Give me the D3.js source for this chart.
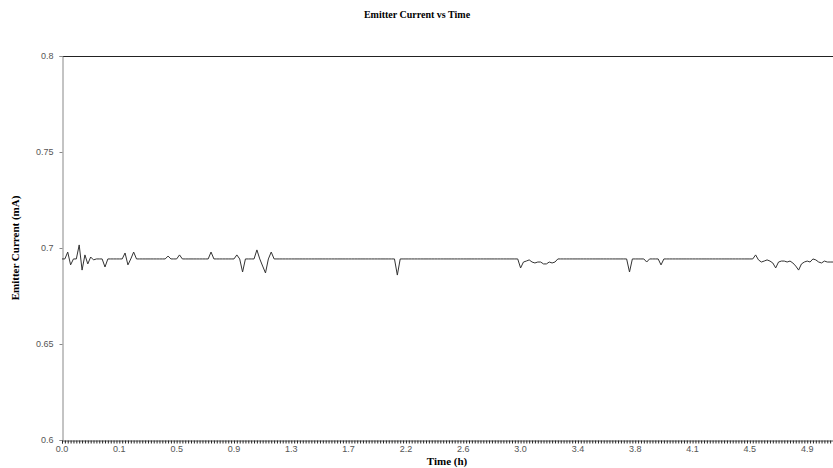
<!DOCTYPE html>
<html>
<head>
<meta charset="utf-8">
<script src="https://cdn.jsdelivr.net/npm/d3@7"></script>
<style>
  html, body { margin: 0; padding: 0; background: #fff; }
  svg { display: block; }
  .tick-label { font-family: Arial, "Liberation Sans", sans-serif; font-size: 9px; fill: #555; }
  .title { font-family: "Times New Roman", "Liberation Serif", serif; font-weight: bold; font-size: 11px; fill: #000; }
</style>
</head>
<body>
<svg id="chart" width="833" height="468"></svg>
<script>
// ── Data ────────────────────────────────────────────────────────────────────
// samples are evenly spaced readings; the x axis is a category axis over them
const sampleCount = 270;
const baseline = 0.6943;   // steady emitter current (mA)

// readings that differ from the baseline: [sample index, current mA]
const deviations = [
  [2, 0.6979], [3, 0.6912], [4, 0.6943], [5, 0.6943], [6, 0.7016], [7, 0.6885],
  [8, 0.6964], [9, 0.6917], [10, 0.6953], [11, 0.6938], [15, 0.6901],
  [22, 0.6974], [23, 0.6912], [25, 0.6979], [37, 0.6958], [41, 0.6964],
  [52, 0.6979], [61, 0.6964], [63, 0.6875], [68, 0.6990], [70, 0.6906],
  [71, 0.6870], [73, 0.6979], [117, 0.6859],
  [160, 0.6896], [161, 0.6927], [162, 0.6932], [163, 0.6938], [164, 0.6927],
  [165, 0.6922], [166, 0.6927], [167, 0.6927], [168, 0.6917], [169, 0.6917],
  [170, 0.6927], [171, 0.6922], [172, 0.6927],
  [198, 0.6875], [204, 0.6927], [209, 0.6912],
  [242, 0.6964], [243, 0.6938], [244, 0.6927], [245, 0.6932], [246, 0.6938],
  [247, 0.6932], [248, 0.6922], [249, 0.6896], [250, 0.6927], [251, 0.6932],
  [252, 0.6932], [253, 0.6927], [254, 0.6932], [255, 0.6922], [256, 0.6906],
  [257, 0.6885], [258, 0.6917], [259, 0.6927], [260, 0.6932], [261, 0.6927],
  [262, 0.6943], [263, 0.6938], [264, 0.6927], [265, 0.6922], [266, 0.6932],
  [267, 0.6927], [268, 0.6927], [269, 0.6927]
];

// category labels shown every 20 samples
const timeLabels = ['0.0', '0.1', '0.5', '0.9', '1.3', '1.7', '2.2', '2.6', '3.0', '3.4', '3.8', '4.1', '4.5', '4.9'];
const labelEvery = 20;
const currentTicks = [0.6, 0.65, 0.7, 0.75, 0.8];

// build the series
const devMap = new Map(deviations);
const series = d3.range(sampleCount).map(i => ({ i, v: devMap.has(i) ? devMap.get(i) : baseline }));

// ── Chart ───────────────────────────────────────────────────────────────────
const svg = d3.select('#chart');
const plot = { left: 62, right: 833, top: 56, bottom: 440 };

const x = d3.scaleLinear().domain([0, sampleCount - 1]).range([plot.left, plot.right]);
const y = d3.scaleLinear().domain([0.6, 0.8]).range([plot.bottom, plot.top]);

// top frame line
svg.append('line')
  .attr('x1', plot.left).attr('x2', plot.right)
  .attr('y1', plot.top + 0.5).attr('y2', plot.top + 0.5)
  .attr('stroke', '#222').attr('stroke-width', 1);

// y axis
const yAxis = svg.append('g')
  .attr('transform', `translate(${plot.left + 0.5},0)`)
  .call(d3.axisLeft(y).tickValues(currentTicks).tickSize(3).tickPadding(6)
    .tickFormat(d => d3.format('.2~f')(d)));
yAxis.select('.domain').attr('stroke', '#888');
yAxis.selectAll('.tick line').attr('stroke', '#888');
yAxis.selectAll('text').attr('class', 'tick-label').attr('font-size', null).attr('font-family', null);

// x axis: a minor tick per sample, labels every 20 samples
const xAxis = svg.append('g')
  .attr('transform', `translate(0,${plot.bottom + 0.5})`)
  .call(d3.axisBottom(x).tickValues(d3.range(0, sampleCount)).tickSize(3).tickFormat(''));
xAxis.select('.domain').attr('stroke', '#555');
xAxis.selectAll('.tick line').attr('stroke', '#222');

svg.append('g')
  .selectAll('text')
  .data(timeLabels)
  .join('text')
  .attr('class', 'tick-label')
  .attr('x', (d, k) => x(k * labelEvery))
  .attr('y', plot.bottom + 12)
  .attr('text-anchor', 'middle')
  .text(d => d);

// the series line
svg.append('path')
  .datum(series)
  .attr('fill', 'none')
  .attr('stroke', '#333')
  .attr('stroke-width', 1)
  .attr('d', d3.line().x(d => x(d.i)).y(d => y(d.v)));

// titles
svg.append('text').attr('class', 'title')
  .attr('x', 417).attr('y', 18).attr('text-anchor', 'middle')
  .style('font-size', '10px')
  .text('Emitter Current vs Time');

svg.append('text').attr('class', 'title')
  .attr('x', 447).attr('y', 465).attr('text-anchor', 'middle')
  .text('Time (h)');

svg.append('text').attr('class', 'title')
  .attr('transform', `translate(19,${(plot.top + plot.bottom) / 2}) rotate(-90)`)
  .attr('text-anchor', 'middle')
  .text('Emitter Current (mA)');
</script>
</body>
</html>
